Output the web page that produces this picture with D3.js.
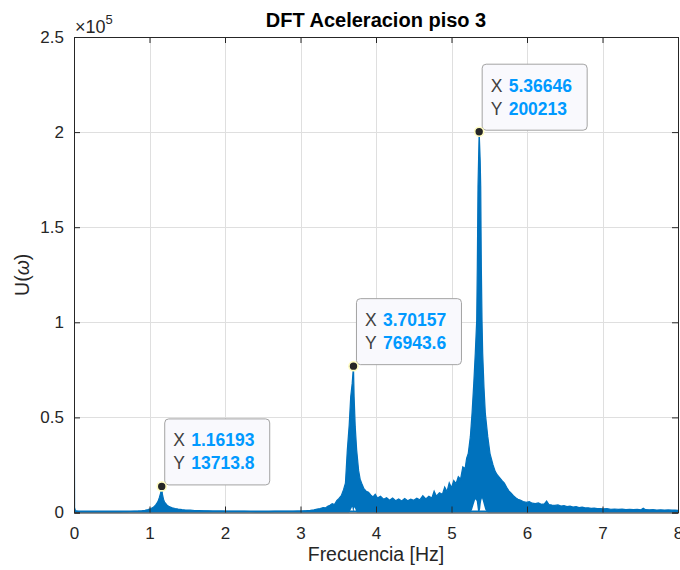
<!DOCTYPE html>
<html>
<head>
<meta charset="utf-8">
<script src="https://cdn.jsdelivr.net/npm/d3@7"></script>
<style>
  html, body { margin: 0; padding: 0; background: #fff; }
  svg { display: block; font-family: "Liberation Sans", Arial, Helvetica, sans-serif; }
</style>
</head>
<body>
<svg id="chart" width="680" height="570"></svg>
<script>
// Spectrum of floor-3 acceleration: frequency (Hz), upper and lower envelope of |U(w)|
const freqHz = [
  0.000, 0.008, 0.02, 0.06, 0.10, 0.15, 0.20, 0.25, 0.30, 0.35, 0.40, 0.45, 0.50, 0.55, 0.60, 0.65,
  0.70, 0.75, 0.80, 0.85, 0.90, 0.94, 0.98, 1.02, 1.05, 1.08, 1.11, 1.13, 1.15, 1.16193, 1.17, 1.185,
  1.20, 1.23, 1.26, 1.30, 1.34, 1.38, 1.43, 1.48, 1.54, 1.60, 1.66, 1.72, 1.78, 1.84, 1.90, 1.96,
  2.02, 2.10, 2.18, 2.26, 2.34, 2.42, 2.50, 2.58, 2.66, 2.74, 2.82, 2.90, 2.96, 3.02, 3.08, 3.13,
  3.18, 3.22, 3.26, 3.30, 3.33, 3.36, 3.39, 3.42, 3.45, 3.48, 3.51, 3.54, 3.57, 3.595, 3.62, 3.645,
  3.665, 3.685, 3.70157, 3.71, 3.725, 3.744, 3.77, 3.79, 3.81, 3.84, 3.87, 3.90, 3.93, 3.96, 3.99, 4.02,
  4.06, 4.10, 4.14, 4.18, 4.22, 4.26, 4.30, 4.34, 4.38, 4.42, 4.46, 4.50, 4.54, 4.58, 4.62, 4.66,
  4.70, 4.74, 4.77, 4.80, 4.84, 4.88, 4.91, 4.94, 4.97, 5.00, 5.03, 5.06, 5.09, 5.12, 5.15, 5.18,
  5.20, 5.222, 5.25, 5.272, 5.295, 5.315, 5.334, 5.342, 5.351, 5.36646, 5.38, 5.387, 5.395, 5.404, 5.413, 5.43,
  5.448, 5.48, 5.51, 5.55, 5.58, 5.61, 5.64, 5.67, 5.70, 5.73, 5.76, 5.79, 5.82, 5.85, 5.88, 5.91,
  5.95, 5.99, 6.03, 6.07, 6.11, 6.15, 6.19, 6.23, 6.26, 6.29, 6.33, 6.37, 6.41, 6.45, 6.49, 6.53,
  6.57, 6.61, 6.65, 6.69, 6.73, 6.77, 6.81, 6.85, 6.89, 6.93, 6.97, 7.01, 7.06, 7.11, 7.16, 7.21,
  7.26, 7.31, 7.36, 7.41, 7.46, 7.51, 7.54, 7.57, 7.62, 7.67, 7.72, 7.77, 7.82, 7.87, 7.92, 7.96,
  8.00
];
const magUpper = [
  107000, 2500, 900, 500, 350, 280, 320, 260, 300, 280, 330, 300, 350, 330, 380, 420,
  460, 520, 600, 720, 900, 1150, 1500, 2100, 2700, 3900, 5600, 7800, 10500, 13713.8, 9800, 7000,
  5400, 4000, 3100, 2500, 2100, 1800, 1500, 1300, 1200, 1050, 980, 900, 820, 760, 700, 680,
  640, 600, 560, 540, 520, 500, 500, 510, 540, 560, 600, 650, 700, 800, 950, 1150,
  1450, 1800, 2100, 2600, 2400, 3300, 3800, 4600, 4200, 6200, 7400, 8800, 12000, 15400, 32800, 46000,
  60800, 68000, 76943.6, 60800, 45000, 32800, 22000, 17500, 15400, 12500, 11200, 10600, 9200, 8200, 9600, 7600,
  8600, 7000, 7800, 6500, 7600, 6200, 7100, 6000, 7300, 6200, 7000, 6400, 7500, 6700, 8800, 7100,
  8500, 7600, 11200, 8600, 10400, 9600, 13400, 11000, 15600, 13000, 16800, 15200, 18800, 17500, 24000, 23000,
  28500, 31000, 40000, 52100, 68000, 83700, 101200, 129300, 171400, 200213, 185000, 171400, 129300, 101200, 83700, 66000,
  52100, 40000, 31000, 25000, 21500, 19600, 18200, 16800, 15500, 13200, 11400, 10200, 8800, 7800, 7000, 6500,
  5800, 5300, 5700, 4900, 4700, 5000, 4300, 4500, 6000, 4200, 3900, 3700, 4000, 3400, 3600, 3100,
  3300, 2900, 3100, 2600, 2800, 2400, 2500, 2200, 2300, 2000, 2100, 1900, 2000, 1700, 1850, 1600,
  1750, 1550, 1650, 1500, 1600, 1450, 2200, 1500, 1400, 1500, 1300, 1400, 1250, 1350, 1200, 1250,
  1100
];
const magLower = [
  0, 0, 0, 0, 0, 0, 0, 0, 0, 0, 0, 0, 0, 0, 0, 0,
  0, 0, 0, 0, 0, 0, 0, 0, 0, 0, 0, 0, 0, 0, 0, 0,
  0, 0, 0, 0, 0, 0, 0, 0, 0, 0, 0, 0, 0, 0, 0, 0,
  0, 0, 0, 0, 0, 0, 0, 0, 0, 0, 0, 0, 0, 0, 0, 0,
  0, 0, 0, 0, 0, 0, 0, 0, 0, 0, 0, 0, 0, 0, 0, 0,
  1500, 3000, 0, 2800, 2000, 0, 0, 0, 0, 0, 0, 0, 0, 0, 0, 0,
  0, 0, 0, 0, 0, 0, 0, 0, 0, 0, 0, 0, 0, 0, 0, 0,
  0, 0, 0, 0, 0, 0, 0, 0, 0, 0, 0, 0, 0, 0, 0, 0,
  0, 0, 0, 1500, 4500, 7000, 6000, 3500, 800, 0, 2000, 4500, 6500, 7500, 6500, 4000,
  1500, 0, 0, 0, 0, 0, 0, 0, 0, 0, 0, 0, 0, 0, 0, 0,
  0, 0, 0, 0, 0, 0, 0, 0, 0, 0, 0, 0, 0, 0, 0, 0,
  0, 0, 0, 0, 0, 0, 0, 0, 0, 0, 0, 0, 0, 0, 0, 0,
  0, 0, 0, 0, 0, 0, 0, 0, 0, 0, 0, 0, 0, 0, 0, 0,
  0
];

// Axis ticks
const xTicks = [0, 1, 2, 3, 4, 5, 6, 7, 8];
const yTicks = [0, 50000, 100000, 150000, 200000, 250000];
const yTickLabels = ["0", "0.5", "1", "1.5", "2", "2.5"];

// Data tips on the three resonance peaks
const tipX = [1.16193, 3.70157, 5.36646];
const tipY = [13713.8, 76943.6, 200213];
const tipXText = ["1.16193", "3.70157", "5.36646"];
const tipYText = ["13713.8", "76943.6", "200213"];

const svg = d3.select("#chart");
const plot = { left: 74, right: 678, top: 37, bottom: 512.5 };

const x = d3.scaleLinear().domain([0, 8]).range([plot.left, plot.right]);
const y = d3.scaleLinear().domain([0, 250000]).range([plot.bottom, plot.top]);

const axisColor = "#262626";
const lineColor = "#0072BD";

// Grid
const grid = svg.append("g");
grid.selectAll("line.gx").data(xTicks.slice(1, -1)).join("line")
  .attr("x1", d => Math.round(x(d)) + 0.5).attr("x2", d => Math.round(x(d)) + 0.5)
  .attr("y1", plot.top).attr("y2", plot.bottom)
  .attr("stroke", "#dfdfdf").attr("stroke-width", 1);
grid.selectAll("line.gy").data(yTicks.slice(1, -1)).join("line")
  .attr("x1", plot.left).attr("x2", plot.right)
  .attr("y1", d => Math.round(y(d)) + 0.5).attr("y2", d => Math.round(y(d)) + 0.5)
  .attr("stroke", "#dfdfdf").attr("stroke-width", 1);

// Spectrum band
svg.append("clipPath").attr("id", "clip").append("rect")
  .attr("x", plot.left).attr("y", plot.top)
  .attr("width", plot.right - plot.left).attr("height", plot.bottom - plot.top);

const idx = d3.range(freqHz.length);
const area = d3.area()
  .x(i => x(freqHz[i]))
  .y0(i => y(magLower[i]))
  .y1(i => y(magUpper[i]));
const upperLine = d3.line()
  .x(i => x(freqHz[i]))
  .y(i => y(magUpper[i]));

const spec = svg.append("g").attr("clip-path", "url(#clip)");
spec.append("path").datum(idx).attr("d", area).attr("fill", lineColor);
spec.append("path").datum(idx).attr("d", upperLine)
  .attr("fill", "none").attr("stroke", lineColor).attr("stroke-width", 1.2)
  .attr("stroke-linejoin", "miter");
spec.append("line")
  .attr("x1", plot.left).attr("x2", plot.right)
  .attr("y1", plot.bottom - 1).attr("y2", plot.bottom - 1)
  .attr("stroke", lineColor).attr("stroke-width", 2);

// Axes (box with ticks on all sides)
const tickLen = 6;
const fmtNone = () => "";
svg.append("g").attr("transform", `translate(0,${plot.bottom})`)
  .call(d3.axisBottom(x).tickValues(xTicks).tickSize(-tickLen).tickPadding(14).tickFormat(d3.format("d")))
  .call(g => g.select(".domain").attr("stroke", axisColor))
  .call(g => g.selectAll(".tick line").attr("stroke", axisColor))
  .call(g => g.selectAll(".tick text").attr("fill", axisColor).attr("font-size", 17)
    .attr("font-family", "Liberation Sans, Arial, sans-serif").attr("dy", "0.72em"));
svg.append("g").attr("transform", `translate(0,${plot.top})`)
  .call(d3.axisTop(x).tickValues(xTicks).tickSize(-tickLen).tickFormat(fmtNone))
  .call(g => g.select(".domain").attr("stroke", axisColor))
  .call(g => g.selectAll(".tick line").attr("stroke", axisColor));
svg.append("g").attr("transform", `translate(${plot.left},0)`)
  .call(d3.axisLeft(y).tickValues(yTicks).tickSize(-tickLen).tickPadding(10)
    .tickFormat((d, i) => yTickLabels[i]))
  .call(g => g.select(".domain").attr("stroke", axisColor))
  .call(g => g.selectAll(".tick line").attr("stroke", axisColor))
  .call(g => g.selectAll(".tick text").attr("fill", axisColor).attr("font-size", 17)
    .attr("font-family", "Liberation Sans, Arial, sans-serif"));
svg.append("g").attr("transform", `translate(${plot.right},0)`)
  .call(d3.axisRight(y).tickValues(yTicks).tickSize(-tickLen).tickFormat(fmtNone))
  .call(g => g.select(".domain").attr("stroke", axisColor))
  .call(g => g.selectAll(".tick line").attr("stroke", axisColor));

// Exponent marker
const expo = svg.append("text").attr("x", plot.left + 1).attr("y", 33)
  .attr("fill", axisColor).attr("font-size", 18);
expo.append("tspan").text("\u00d710");
expo.append("tspan").attr("dy", -9).attr("font-size", 13).text("5");

// Title and labels
svg.append("text").attr("x", (plot.left + plot.right) / 2).attr("y", 27)
  .attr("text-anchor", "middle").attr("font-weight", "bold").attr("font-size", 20)
  .attr("fill", "#000").text("DFT Aceleracion piso 3");
svg.append("text").attr("x", (plot.left + plot.right) / 2).attr("y", 561)
  .attr("text-anchor", "middle").attr("font-size", 19.5).attr("fill", axisColor)
  .text("Frecuencia [Hz]");
const yl = svg.append("text")
  .attr("transform", `translate(29,${(plot.top + plot.bottom) / 2}) rotate(-90)`)
  .attr("text-anchor", "middle").attr("font-size", 19.5).attr("fill", axisColor);
yl.append("tspan").text("U(");
yl.append("tspan").attr("font-style", "italic").text("\u03c9");
yl.append("tspan").text(")");

// Data tips
const tips = svg.append("g");
tipX.forEach((fx, i) => {
  const px = x(fx), py = y(tipY[i]);
  const bw = 105, bh = 66;
  const bx = px + 2.5, by = py - 2 - bh;
  const g = tips.append("g");
  g.append("rect").attr("x", bx + 0.5).attr("y", by + 0.5).attr("width", bw).attr("height", bh)
    .attr("rx", 4).attr("fill", "#f9f9fd").attr("stroke", "#a3a3a3").attr("stroke-width", 1);
  const rows = [["X", tipXText[i]], ["Y", tipYText[i]]];
  rows.forEach((r, k) => {
    const t = g.append("text").attr("x", bx + 9).attr("y", by + 28 + k * 23)
      .attr("font-size", 17.5);
    t.append("tspan").attr("fill", "#404040").text(r[0]);
    t.append("tspan").attr("x", bx + 27).attr("fill", "#0099ff").attr("font-weight", "bold").text(r[1]);
  });
  g.append("circle").attr("cx", px).attr("cy", py).attr("r", 4.5)
    .attr("fill", "#262626").attr("stroke", "#fffcc0").attr("stroke-width", 1.6);
});
</script>
</body>
</html>
